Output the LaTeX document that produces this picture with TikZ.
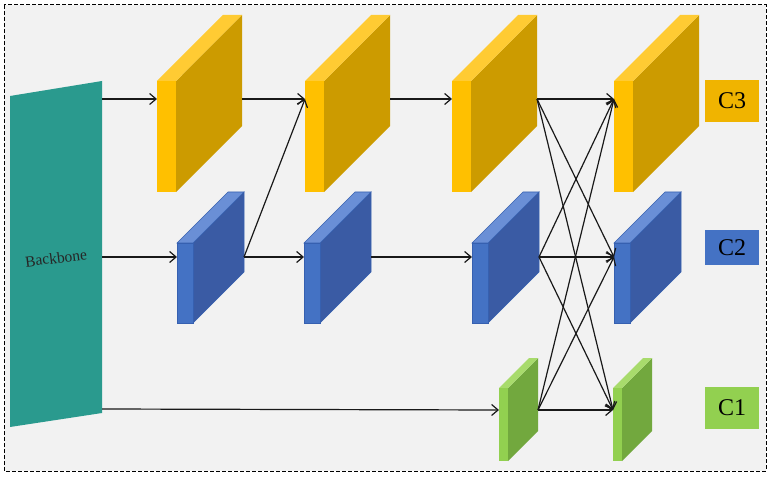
\documentclass[tikz,border=0pt]{standalone}
\usepackage{fontspec}
\setmainfont{Liberation Serif}
\usetikzlibrary{arrows.meta}

\definecolor{bgGray}{HTML}{F2F2F2}
\definecolor{bbTeal}{HTML}{2A9A8E}
\definecolor{yFront}{HTML}{FFC000}
\definecolor{yTop}{HTML}{FFCB33}
\definecolor{ySide}{HTML}{CC9B00}
\definecolor{bFront}{HTML}{4472C4}
\definecolor{bTop}{HTML}{6A8FD6}
\definecolor{bSide}{HTML}{3A5BA4}
\definecolor{bEdge}{HTML}{3660B0}
\definecolor{gFront}{HTML}{92D050}
\definecolor{gTop}{HTML}{A8DB6C}
\definecolor{gSide}{HTML}{72A83E}
\definecolor{labYellow}{HTML}{F0B400}

\tikzset{
  link/.style={-{Straight Barb[length=6.5pt,width=11pt]}, line width=1.2pt, draw=black!90},
  lab/.style={minimum width=54pt, inner sep=0pt, font=\fontsize{24}{24}\selectfont},
  yface/.style={fill=yFront}, ytop/.style={fill=yTop}, yside/.style={fill=ySide},
  bface/.style={fill=bFront, draw=bEdge, line width=0.6pt},
  btop/.style={fill=bTop, draw=bEdge, line width=0.6pt},
  bside/.style={fill=bSide, draw=bEdge, line width=0.6pt},
  gface/.style={fill=gFront}, gtop/.style={fill=gTop}, gside/.style={fill=gSide},
  % #1 width, #2 height, #3 depth, #4 arrow row below top, #5-#7 front/top/side
  pics/block/.style n args={7}{code={
    \path[#7] (#1,-#4) -- ++(#3,-#3) -- ++(0,#2) -- (#1,#2-#4) -- cycle;
    \path[#6] (0,-#4) -- (#1,-#4) -- ++(#3,-#3) -- ++(-#1,0) -- cycle;
    \path[#5] (0,-#4) rectangle (#1,#2-#4);
    \coordinate (-in) at (0,0);
    \coordinate (-out) at (#1+#3,0);
  }},
}

\begin{document}
\begin{tikzpicture}[x=1pt, y=-1pt]
    \useasboundingbox (0,0) rectangle (773,478);

    % 1. Rahmen
    \draw[fill=bgGray, dash pattern=on 4pt off 2pt, line width=1pt] (4,5) rectangle (766,471);

    % 2. Backbone
    \fill[bbTeal] (10,96) -- (102,81) -- (102,413) -- (10,427) -- cycle;
    \node[rotate=7, text=black!85, font=\fontsize{15.5}{15}\selectfont] (bbtext) at (56,258) {Backbone};
    \coordinate (bb1) at (102,99);
    \coordinate (bb2) at (102,257);
    \coordinate (bb3) at (102,409);

    % 3. Merkmalsbloecke
    \foreach \n/\x in {y1/157, y2/305, y3/452, y4/614}
        \pic (\n) at (\x,99) {block={19}{111}{66}{18}{yface}{ytop}{yside}};
    \foreach \n/\x in {b1/177, b2/304, b3/472, b4/614}
        \pic (\n) at (\x,257) {block={16}{80}{51}{14}{bface}{btop}{bside}};
    \foreach \n/\x in {g1/499, g2/613}
        \pic (\n) at (\x,410) {block={9}{73}{30}{22}{gface}{gtop}{gside}};

    % 4. Verbindungen
    \draw[link] (bb1) -- (y1-in);
    \draw[link] (bb2) -- (b1-in);
    \draw[link] (bb3) -- (g1-in);
    \draw[link] (y1-out) -- (y2-in);
    \draw[link] (b1-out) -- (y2-in);
    \draw[link] (b1-out) -- (b2-in);
    \draw[link] (y2-out) -- (y3-in);
    \draw[link] (b2-out) -- (b3-in);
    \foreach \s in {y3, b3, g1}
        \foreach \t in {y4, b4, g2}
            \draw[link] (\s-out) -- (\t-in);

    % 5. Beschriftung
    \node[lab, fill=labYellow, minimum height=42pt] (c3) at (732,101) {C3};
    \node[lab, fill=bFront, minimum height=35pt] (c2) at (732,247.5) {C2};
    \node[lab, fill=gFront, minimum height=42pt] (c1) at (732,408) {C1};
\end{tikzpicture}
\end{document}
